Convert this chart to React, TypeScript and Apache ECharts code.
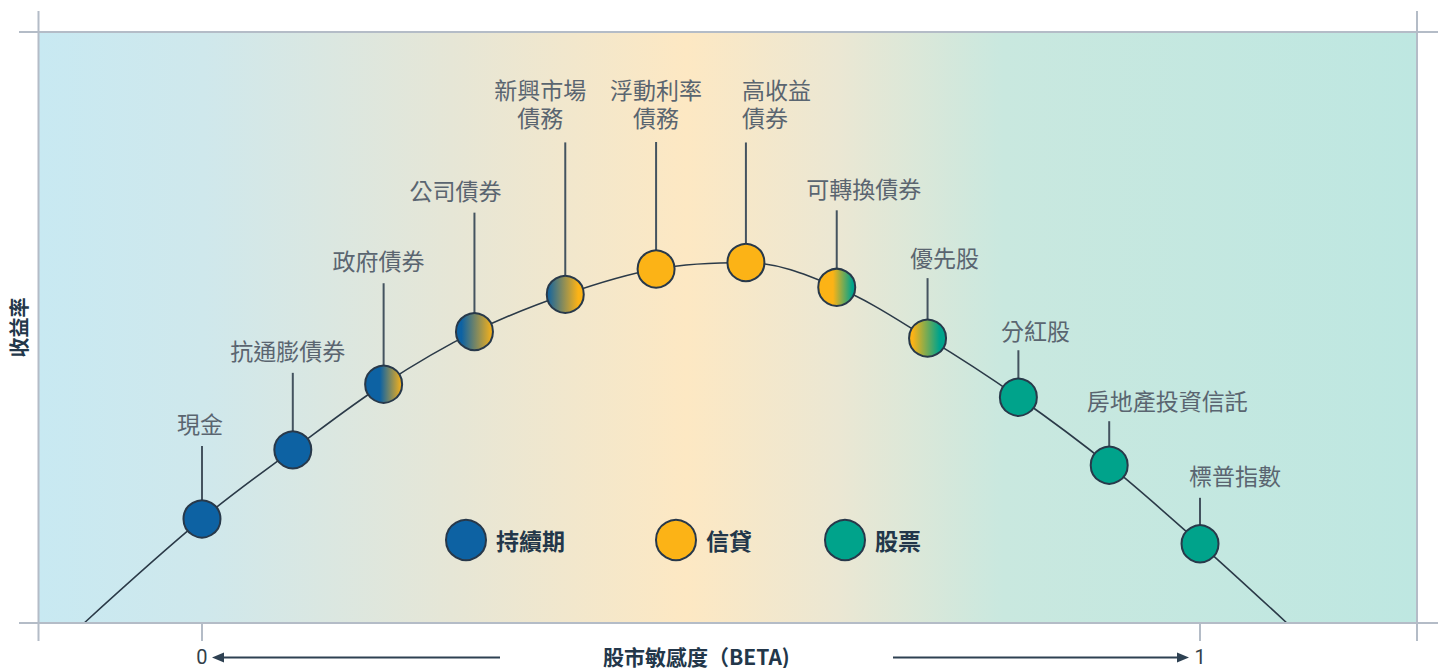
import React, { useEffect, useRef } from "react";
import * as echarts from "echarts";

// ---------- data ----------
const assetNames = [
  "現金",
  "抗通膨債券",
  "政府債券",
  "公司債券",
  "新興市場\n債務",
  "浮動利率\n債務",
  "高收益\n債券",
  "可轉換債券",
  "優先股",
  "分紅股",
  "房地產投資信託",
  "標普指數",
];
const betaValues = [0, 0.091, 0.182, 0.273, 0.364, 0.455, 0.545, 0.636, 0.727, 0.818, 0.909, 1.0];
const yieldValues = [17.6, 29.3, 40.4, 49.3, 55.6, 59.9, 61.0, 56.8, 48.2, 38.2, 26.7, 13.4];
// curve continues to the axis on both sides
const curveStart = [-0.118, 0];
const curveEnd = [1.087, 0];
const legendNames = ["持續期", "信貸", "股票"];
const xTickValues = [0, 1];
const xTitle = "股市敏感度（BETA)";
const yTitle = "收益率";

// ---------- styling / layout ----------
const BLUE = "#0d62a3";
const ORANGE = "#fcb316";
const TEAL = "#00a38b";
const legendColors = [BLUE, ORANGE, TEAL];
const legendLeft = [445, 655, 824];
// gradient stops per point (left -> right)
const fills: [number, string][][] = [
  [[0, BLUE], [1, BLUE]],
  [[0, BLUE], [1, BLUE]],
  [[0, BLUE], [0.4, BLUE], [1, ORANGE]],
  [[0, BLUE], [0.15, BLUE], [1, ORANGE]],
  [[0, BLUE], [0.85, ORANGE], [1, ORANGE]],
  [[0, ORANGE], [1, ORANGE]],
  [[0, ORANGE], [1, ORANGE]],
  [[0, ORANGE], [0.4, ORANGE], [0.92, TEAL], [1, TEAL]],
  [[0, ORANGE], [0.1, ORANGE], [0.82, TEAL], [1, TEAL]],
  [[0, TEAL], [1, TEAL]],
  [[0, TEAL], [1, TEAL]],
  [[0, TEAL], [1, TEAL]],
];
const leaderLengths = [73, 77, 101, 119, 152, 127, 120, 77, 60, 47, 44, 46];
const labelDx = [-2, -5, -5, -19, -25, 0, -4, 27, 17, 17, 58, 35];
const labelDy = [-9, -9, -9, -9, -11, -11, -11, -8, -7, -6, -7, -9];
const labelAlign = ["center", "center", "center", "center", "center", "center", "left", "center", "center", "center", "center", "center"];
const X_MIN = -0.1643;
const X_MAX = 1.2174;
const FONT = '"Noto Sans CJK TC", "Noto Sans", sans-serif';
const FRAME = "#b4bcc7";
const DARK = "#23374a";
const ARROW = "#2e4152";

export default function App() {
  const ref = useRef<HTMLDivElement>(null);

  useEffect(() => {
    if (!ref.current) return;
    const chart = echarts.init(ref.current, null, { renderer: "svg" });

    const curveData = [curveStart, ...betaValues.map((b, i) => [b, yieldValues[i]]), curveEnd];
    const pointData = betaValues.map((b, i) => [b, yieldValues[i], i]);

    const R = 18.5;

    const option: any = {
      animation: false,
      grid: {
        left: 38,
        right: 21,
        top: 32,
        bottom: 45,
        show: true,
        borderWidth: 0,
        backgroundColor: {
          type: "linear",
          x: 0,
          y: 0,
          x2: 1,
          y2: 0,
          colorStops: [
            { offset: 0, color: "#c8e9f2" },
            { offset: 0.12, color: "#cfe8ec" },
            { offset: 0.3, color: "#e6e6d6" },
            { offset: 0.47, color: "#fde8c3" },
            { offset: 0.58, color: "#ebe7d3" },
            { offset: 0.7, color: "#c9e8df" },
            { offset: 1, color: "#bee7e1" },
          ],
        },
      },
      xAxis: {
        type: "value",
        min: X_MIN,
        max: X_MAX,
        axisLine: { show: false },
        splitLine: { show: false },
        axisTick: {
          show: true,
          customValues: xTickValues,
          length: 18,
          lineStyle: { color: FRAME, width: 2 },
        },
        axisLabel: {
          customValues: xTickValues,
          margin: 25,
          fontSize: 20,
          lineHeight: 17,
          color: "#333f4a",
          fontFamily: "Roboto",
        },
      },
      yAxis: {
        type: "value",
        min: 0,
        max: 100,
        axisLine: { show: false },
        axisTick: { show: false },
        axisLabel: { show: false },
        splitLine: { show: false },
        name: yTitle,
        nameLocation: "middle",
        nameGap: 10,
        nameRotate: 90,
        nameTextStyle: { fontSize: 20, fontWeight: "bold", color: DARK, fontFamily: FONT },
      },
      legend: legendNames.map((name, i) => ({
        data: [name],
        left: legendLeft[i],
        top: 519,
        padding: 0,
        icon: "circle",
        itemWidth: 40,
        itemHeight: 40,
        selectedMode: false,
        itemStyle: { borderColor: "#27384a", borderWidth: 2, opacity: 1 },
        textStyle: {
          fontSize: 23,
          fontWeight: "bold",
          color: DARK,
          fontFamily: FONT,
          padding: [0, 0, 0, 5],
        },
      })),
      series: [
        {
          type: "line",
          data: curveData,
          smooth: 0.35,
          symbol: "none",
          lineStyle: { color: "#2b3a48", width: 1.6 },
          z: 2,
          silent: true,
        },
        {
          type: "custom",
          data: pointData,
          encode: { x: 0, y: 1 },
          z: 3,
          renderItem: (params: any, api: any) => {
            const i = api.value(2);
            const [cx, cy] = api.coord([api.value(0), api.value(1)]);
            const top = cy - leaderLengths[i];
            return {
              type: "group",
              children: [
                {
                  type: "line",
                  shape: { x1: cx, y1: cy - R, x2: cx, y2: top },
                  style: { stroke: "#44535f", lineWidth: 2 },
                },
                {
                  type: "circle",
                  shape: { cx, cy, r: R },
                  style: {
                    fill: {
                      type: "linear",
                      x: 0,
                      y: 0,
                      x2: 1,
                      y2: 0,
                      colorStops: fills[i].map(([o, c]) => ({ offset: o, color: c })),
                    },
                    stroke: "#28394a",
                    lineWidth: 2,
                  },
                },
                {
                  type: "text",
                  style: {
                    text: assetNames[i],
                    x: cx + labelDx[i],
                    y: top + labelDy[i],
                    textAlign: labelAlign[i],
                    align: labelAlign[i],
                    textVerticalAlign: "bottom",
                    verticalAlign: "bottom",
                    fontSize: 23,
                    lineHeight: 28,
                    fontFamily: FONT,
                    fill: "#5a6570",
                  },
                },
              ],
            };
          },
        },
        ...legendNames.map((name, i) => ({
          type: "scatter",
          name,
          data: [],
          itemStyle: { color: legendColors[i], borderColor: "#27384a", borderWidth: 2, opacity: 1 },
        })),
      ],
      graphic: [
        { type: "line", shape: { x1: 19, y1: 32, x2: 1438, y2: 32 }, style: { stroke: FRAME, lineWidth: 2 }, z: 10 },
        { type: "line", shape: { x1: 19, y1: 623, x2: 1438, y2: 623 }, style: { stroke: FRAME, lineWidth: 2 }, z: 10 },
        { type: "line", shape: { x1: 38.5, y1: 11, x2: 38.5, y2: 641 }, style: { stroke: FRAME, lineWidth: 2 }, z: 10 },
        { type: "line", shape: { x1: 1417, y1: 11, x2: 1417, y2: 641 }, style: { stroke: FRAME, lineWidth: 2 }, z: 10 },
        { type: "line", shape: { x1: 500, y1: 657.5, x2: 222, y2: 657.5 }, style: { stroke: ARROW, lineWidth: 2 } },
        { type: "polygon", shape: { points: [[212, 657.5], [224, 652.5], [224, 662.5]] }, style: { fill: ARROW } },
        { type: "line", shape: { x1: 893, y1: 657.5, x2: 1178, y2: 657.5 }, style: { stroke: ARROW, lineWidth: 2 } },
        { type: "polygon", shape: { points: [[1189, 657.5], [1177, 652.5], [1177, 662.5]] }, style: { fill: ARROW } },
        {
          type: "text",
          x: 603,
          y: 656,
          style: {
            text: xTitle,
            textAlign: "left",
            align: "left",
            textVerticalAlign: "middle",
            verticalAlign: "middle",
            fontSize: 21,
            lineHeight: 20,
            fontWeight: "bold",
            fontFamily: FONT,
            fill: DARK,
          },
        },
      ],
    };

    chart.setOption(option);
    return () => chart.dispose();
  }, []);

  return (
    <div
      ref={ref}
      style={{ position: "absolute", left: 0, top: 0, width: 1438, height: 668 }}
    />
  );
}
